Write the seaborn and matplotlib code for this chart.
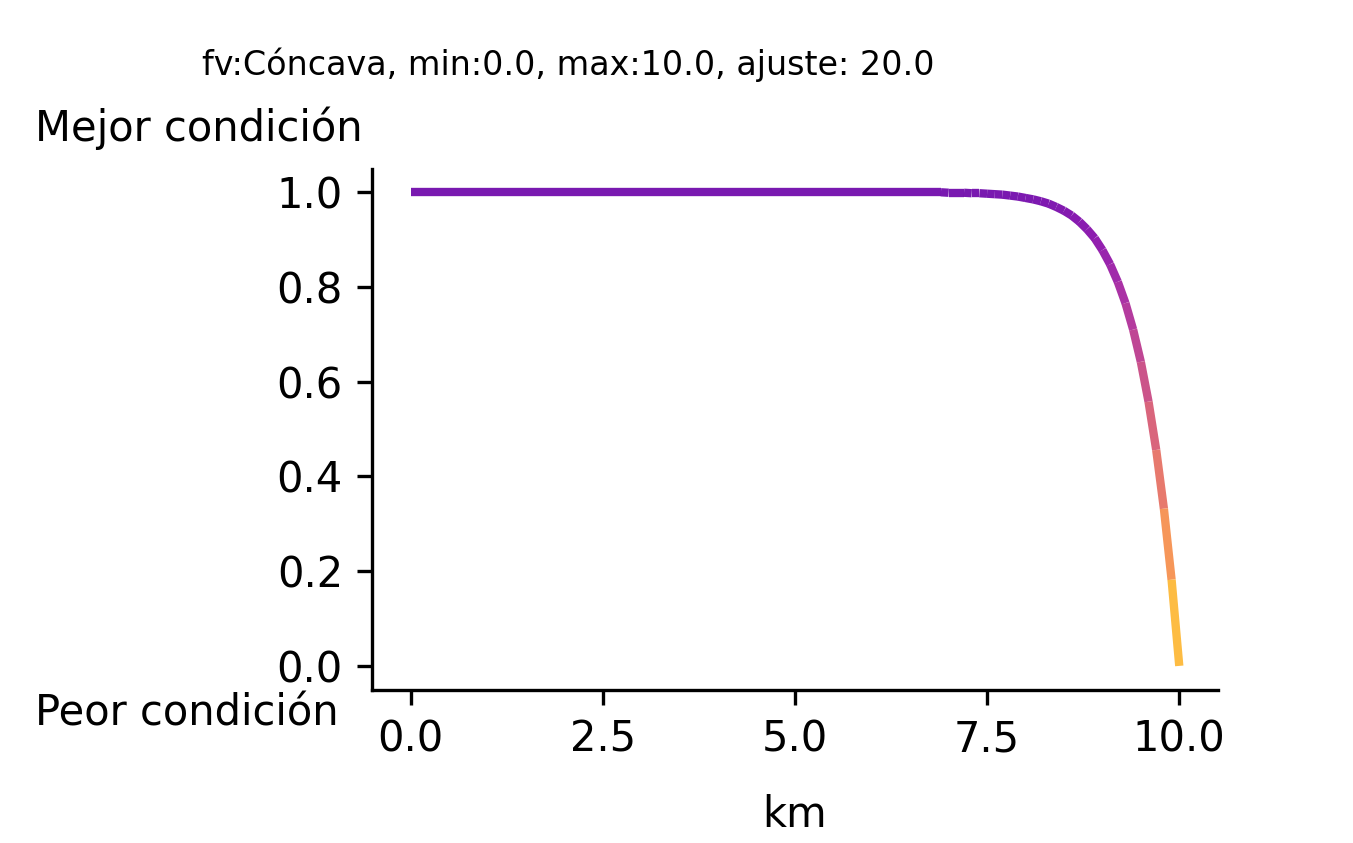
import numpy as np
import matplotlib
matplotlib.use("Agg")
import matplotlib.pyplot as plt
import seaborn as sns
from matplotlib.collections import LineCollection

km = [0.0, 1.0, 2.0, 3.0, 4.0, 5.0, 6.0, 6.1, 6.2, 6.3, 6.4, 6.5, 6.6, 6.7, 6.8, 6.9,
      7.0, 7.1, 7.2, 7.3, 7.4, 7.5, 7.6, 7.7, 7.8, 7.9,
      8.0, 8.1, 8.2, 8.3, 8.4, 8.5, 8.6, 8.7, 8.8, 8.9,
      9.0, 9.1, 9.2, 9.3, 9.4, 9.5, 9.6, 9.7, 9.8, 9.9, 10.0]
condicion = [1.0, 1.0, 1.0, 1.0, 1.0, 1.0, 1.0, 1.0, 1.0, 1.0, 1.0, 1.0, 1.0, 1.0, 1.0, 1.0,
             0.999, 0.999, 0.999, 0.998, 0.998, 0.997, 0.996, 0.995, 0.993, 0.991,
             0.988, 0.985, 0.981, 0.976, 0.969, 0.961, 0.951, 0.938, 0.922, 0.903,
             0.878, 0.848, 0.811, 0.766, 0.710, 0.642, 0.558, 0.456, 0.332, 0.182, 0.0]
yticks = [0.0, 0.2, 0.4, 0.6, 0.8, 1.0]
xticks = [0.0, 2.5, 5.0, 7.5, 10.0]

sns.set_style("ticks", {"text.color": "black", "axes.labelcolor": "black",
                        "xtick.color": "black", "ytick.color": "black",
                        "axes.edgecolor": "black"})
plt.rcParams['font.family'] = ['DejaVu Sans']
fig = plt.figure(figsize=(4.51, 2.81), dpi=300)
ax = fig.add_axes([0.275, 0.182, 0.625, 0.618])

x = np.array(km); y = np.array(condicion)
pts = np.column_stack([x, y]).reshape(-1, 1, 2)
segs = np.concatenate([pts[:-1], pts[1:]], axis=1)
ymid = (y[:-1] + y[1:]) / 2
cmap = plt.get_cmap("plasma")
colors = [cmap(0.2 + 0.7 * (1 - v)) for v in ymid]
lc = LineCollection(segs, colors=colors, linewidths=2.0, alpha=0.9)
ax.add_collection(lc)
ax.set_xlim(-0.5, 10.5)
ax.set_ylim(-0.05, 1.05)
ax.set_xticks(xticks)
ax.set_xticklabels([f"{t:.1f}" for t in xticks], fontsize=10)
ax.set_yticks(yticks)
ax.set_yticklabels([f"{t:.1f}" for t in yticks], fontsize=10)
ax.tick_params(width=0.8, length=3.5, colors="black")
for s in ax.spines.values():
    s.set_linewidth(0.8)
    s.set_color("black")
sns.despine(ax=ax)
ax.set_xlabel("km", fontsize=10, labelpad=8, color="black")
fig.text(0.42, 0.923, "fv:Cóncava, min:0.0, max:10.0, ajuste: 20.0", ha="center", va="center", fontsize=8, color="black")
fig.text(0.026, 0.848, "Mejor condición", ha="left", va="center", fontsize=10, color="black")
fig.text(0.026, 0.154, "Peor condición", ha="left", va="center", fontsize=10, color="black")
fig.savefig("out.png", dpi=300)
